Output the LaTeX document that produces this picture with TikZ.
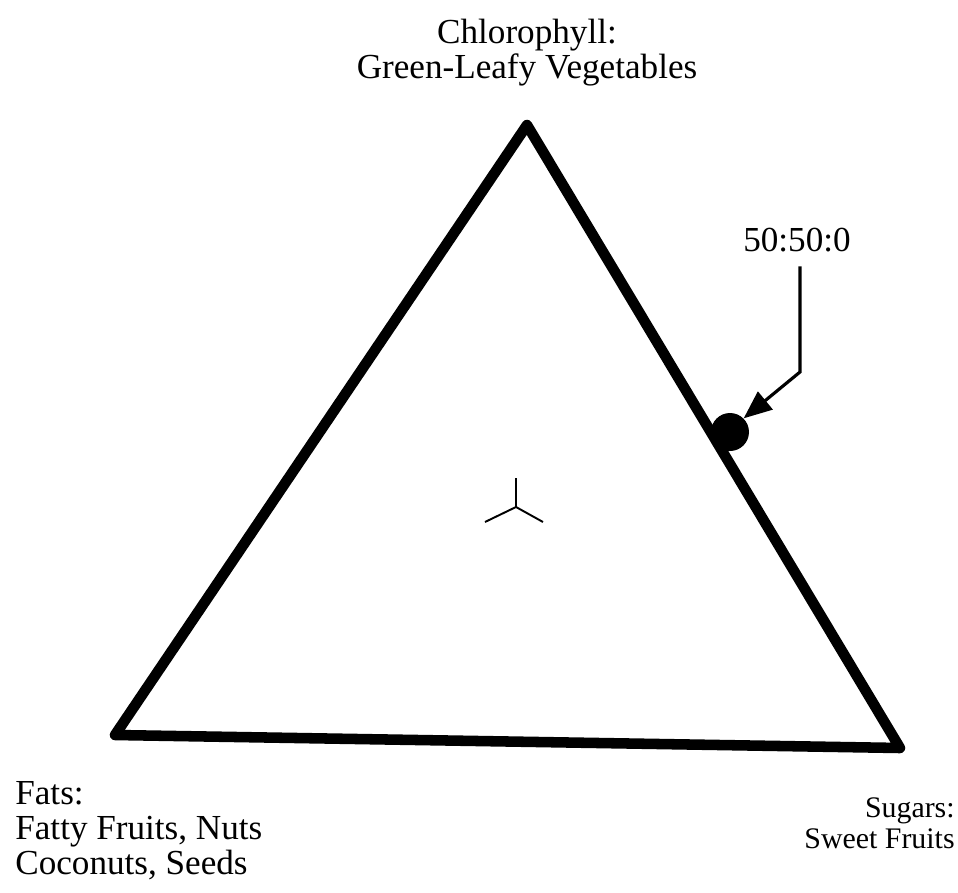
\documentclass[tikz,border=0pt]{standalone}
\usepackage{fontspec}
\setmainfont{Liberation Serif}
\usetikzlibrary{arrows.meta}

\tikzset{
  lbl/.style={font=\fontsize{20}{20}\selectfont, inner sep=0pt, align=center},
  edge/.style={line width=6pt, line join=round, line cap=round},
  pointer/.style={line width=1.8pt, -{Triangle[length=16pt,width=13pt]}}
}

\begin{document}
\begin{tikzpicture}[x=0.02cm, y=-0.02cm]
          \useasboundingbox (0,0) rectangle (958,893);

          \coordinate (C) at (527,125);
          \coordinate (F) at (115,735);
          \coordinate (S) at (900,748);

          \draw[edge] (C) -- (F) -- (S) -- cycle;

          \node[lbl] (chl) at (527,53) {Chlorophyll:\\Green-Leafy Vegetables};
          \node[lbl, align=left, anchor=north west] (fats) at (15,781) {Fats:\\Fatty Fruits, Nuts\\Coconuts, Seeds};
          \node[lbl, font=\fontsize{17}{18}\selectfont, align=right, anchor=north east] (sug) at (955,797) {Sugars:\\Sweet Fruits};

          \node[fill=black, circle, minimum size=0.76cm, inner sep=0pt] (dot) at (730,432) {};
          \node[lbl] (ratio) at (797,240) {50:50:0};
          \coordinate (bend) at (800,372);

          \draw[pointer] ([yshift=-8pt]ratio.south -| bend) -- (bend) -- (dot.north east);

          % centre mark
          \draw[line width=1.1pt] (516,507) -- (516,478)
            (516,507) -- (485,522)
            (516,507) -- (543,522);

      \end{tikzpicture}
\end{document}
